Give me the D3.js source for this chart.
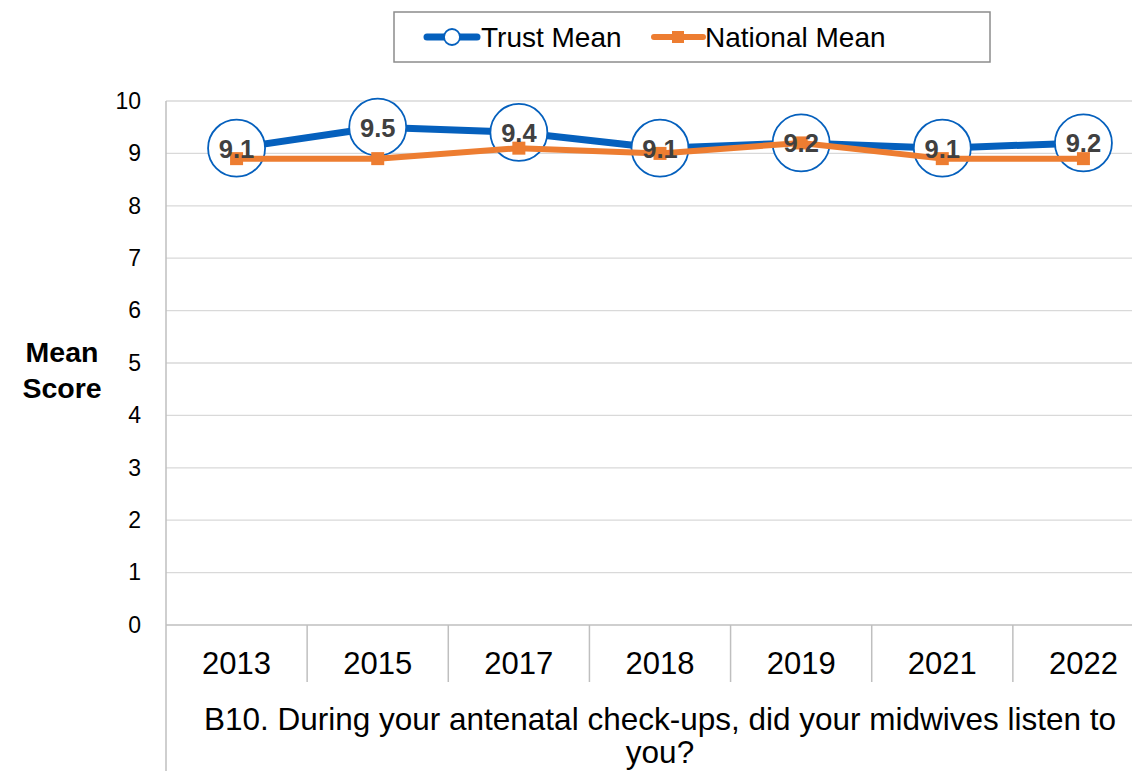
<!DOCTYPE html>
<html>
<head>
<meta charset="utf-8">
<script src="https://cdn.jsdelivr.net/npm/d3@7"></script>
<style>
  html, body { margin: 0; padding: 0; background: #fff; }
  svg { display: block; font-family: "Liberation Sans", Arial, sans-serif; }
</style>
</head>
<body>
<svg id="chart" width="1132" height="771"></svg>
<script>
// Survey years and mean scores
const years = ["2013", "2015", "2017", "2018", "2019", "2021", "2022"];
const trustMean = [9.1, 9.5, 9.4, 9.1, 9.2, 9.1, 9.2];
const nationalMean = [8.9, 8.9, 9.1, 9.0, 9.2, 8.9, 8.9];
const yTicks = [0, 1, 2, 3, 4, 5, 6, 7, 8, 9, 10];
const questionLines = ["B10. During your antenatal check-ups, did your midwives listen to", "you?"];

const blue = "#0560bd";
const orange = "#ed7d31";
const fontFamily = "'Liberation Sans', Arial, sans-serif";

const svg = d3.select("#chart");

const plot = { left: 166, right: 1154, top: 101, bottom: 625 };

const x = d3.scaleBand().domain(years).range([plot.left, plot.right]).padding(0);
const y = d3.scaleLinear().domain([0, 10]).range([plot.bottom, plot.top]);
const cx = d => x(d) + x.bandwidth() / 2;

// Horizontal gridlines
svg.append("g").selectAll("line").data(yTicks.filter(t => t > 0)).join("line")
  .attr("x1", plot.left).attr("x2", plot.right)
  .attr("y1", d => y(d)).attr("y2", d => y(d))
  .attr("stroke", "#d9d9d9").attr("stroke-width", 1.3);

// Y axis labels
const yAxis = d3.axisLeft(y).tickValues(yTicks).tickSize(0).tickPadding(25);
const gy = svg.append("g").attr("transform", `translate(${plot.left},0)`).call(yAxis);
gy.select(".domain").remove();
gy.selectAll("text").attr("font-size", 23).attr("fill", "#000")
  .attr("font-family", fontFamily);

// Left axis line, running down through the category area
svg.append("line")
  .attr("x1", plot.left).attr("x2", plot.left)
  .attr("y1", plot.top).attr("y2", 771)
  .attr("stroke", "#bfbfbf").attr("stroke-width", 1.5);

// Baseline
svg.append("line")
  .attr("x1", plot.left).attr("x2", plot.right)
  .attr("y1", plot.bottom).attr("y2", plot.bottom)
  .attr("stroke", "#bfbfbf").attr("stroke-width", 1.5);

// Category dividers
svg.append("g").selectAll("line").data(years.slice(1)).join("line")
  .attr("x1", d => x(d)).attr("x2", d => x(d))
  .attr("y1", plot.bottom).attr("y2", 682)
  .attr("stroke", "#bfbfbf").attr("stroke-width", 1.5);

// Category labels
const gx = svg.append("g");
gx.selectAll("text").data(years).join("text")
  .attr("x", d => cx(d)).attr("y", 674)
  .attr("text-anchor", "middle").attr("font-size", 31).attr("fill", "#000")
  .text(d => d);

// Question text under the categories
svg.append("text")
  .attr("x", (plot.left + plot.right) / 2).attr("y", 730)
  .attr("text-anchor", "middle").attr("font-size", 31.5).attr("fill", "#000")
  .selectAll("tspan").data(questionLines).join("tspan")
  .attr("x", (plot.left + plot.right) / 2)
  .attr("dy", (d, i) => i === 0 ? 0 : 33)
  .text(d => d);

// Y axis title
svg.append("text")
  .attr("x", 62).attr("y", 362)
  .attr("text-anchor", "middle").attr("font-size", 28.5).attr("font-weight", "bold")
  .selectAll("tspan").data(["Mean", "Score"]).join("tspan")
  .attr("x", 62).attr("dy", (d, i) => i === 0 ? 0 : 36)
  .text(d => d);

const line = d3.line().x((d, i) => cx(years[i])).y(d => y(d));

// Trust series
svg.append("path").datum(trustMean)
  .attr("d", line).attr("fill", "none")
  .attr("stroke", blue).attr("stroke-width", 7).attr("stroke-linejoin", "round");
svg.append("g").selectAll("circle").data(trustMean).join("circle")
  .attr("cx", (d, i) => cx(years[i])).attr("cy", d => y(d)).attr("r", 28.5)
  .attr("fill", "#fff").attr("stroke", blue).attr("stroke-width", 1.8);

// National series
svg.append("path").datum(nationalMean)
  .attr("d", line).attr("fill", "none")
  .attr("stroke", orange).attr("stroke-width", 6).attr("stroke-linejoin", "round");
const sq = 13;
svg.append("g").selectAll("rect").data(nationalMean).join("rect")
  .attr("x", (d, i) => cx(years[i]) - sq / 2).attr("y", d => y(d) - sq / 2)
  .attr("width", sq).attr("height", sq).attr("fill", orange);

// Trust value labels
svg.append("g").selectAll("text").data(trustMean).join("text")
  .attr("x", (d, i) => cx(years[i])).attr("y", d => y(d) + 9.5)
  .attr("text-anchor", "middle").attr("font-size", 25.5).attr("font-weight", "bold")
  .attr("fill", "#404040")
  .text(d => d.toFixed(1));

// Legend
const legend = svg.append("g");
legend.append("rect").attr("x", 394).attr("y", 12).attr("width", 596).attr("height", 50)
  .attr("fill", "#fff").attr("stroke", "#8c8c8c").attr("stroke-width", 1.5);
legend.append("line").attr("x1", 427).attr("x2", 477).attr("y1", 37).attr("y2", 37)
  .attr("stroke", blue).attr("stroke-width", 7).attr("stroke-linecap", "round");
legend.append("circle").attr("cx", 452).attr("cy", 37).attr("r", 8)
  .attr("fill", "#fff").attr("stroke", blue).attr("stroke-width", 1.8);
legend.append("text").attr("x", 481).attr("y", 47).attr("font-size", 28).text("Trust Mean");
legend.append("line").attr("x1", 654).attr("x2", 703).attr("y1", 37).attr("y2", 37)
  .attr("stroke", orange).attr("stroke-width", 6).attr("stroke-linecap", "round");
legend.append("rect").attr("x", 672).attr("y", 31).attr("width", 12).attr("height", 12)
  .attr("fill", orange);
legend.append("text").attr("x", 705).attr("y", 47).attr("font-size", 28).text("National Mean");
</script>
</body>
</html>
